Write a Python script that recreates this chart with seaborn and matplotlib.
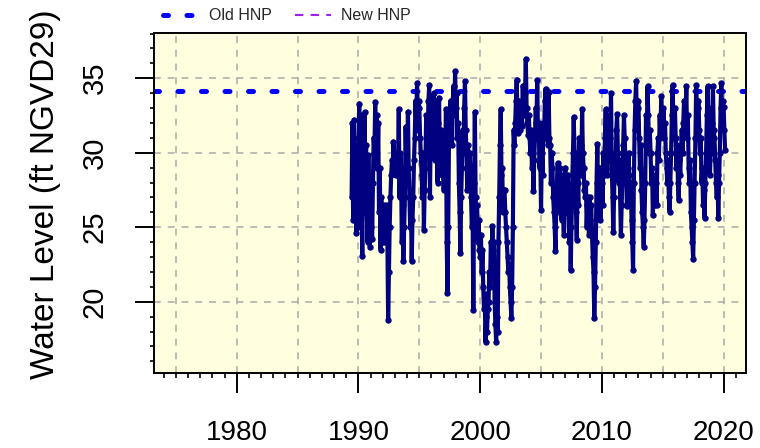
import matplotlib
matplotlib.use("Agg")
import matplotlib.pyplot as plt
from matplotlib.lines import Line2D
from matplotlib.ticker import MultipleLocator
import numpy as np
import pandas as pd
import seaborn as sns

# Stage record sampled 16 times a year, first reading at 1989.4375 (ft NGVD29)
start_year = 1989.4375
samples_per_year = 16
levels = [
    # 1989 (second half)
    27.0, 32.0, 25.5, 32.2, 26.0, 30.5, 24.6, 29.5, 25.0,
    # 1990
    31.0, 33.3, 26.5, 32.5, 27.0, 23.1, 29.0, 26.0, 32.7, 27.5, 30.5, 26.0, 24.0, 29.85, 25.5, 23.7,
    # 1991
    27.5, 25.0, 24.2, 28.0, 31.0, 30.0, 33.4, 29.5, 32.5, 29.0, 32.0, 26.0, 29.0, 23.5, 27.0, 24.0,
    # 1992
    24.5, 26.5, 24.0, 26.0, 25.0, 26.5, 24.5, 18.8, 22.0, 25.0, 27.0, 28.5, 29.5, 29.0, 30.75, 28.6,
    # 1993
    29.5, 28.5, 30.0, 28.5, 29.0, 32.9, 27.0, 30.0, 29.0, 24.0, 26.5, 22.7, 25.0, 27.0, 31.75, 29.0,
    # 1994
    28.0, 32.75, 29.0, 27.0, 25.0, 26.5, 22.7, 25.5, 27.0, 29.5, 31.0, 33.5, 32.0, 34.65, 31.5, 33.5,
    # 1995
    33.0, 31.0, 30.0, 28.5, 27.0, 30.0, 24.8, 27.5, 29.0, 32.5, 30.0, 31.0, 33.5, 34.55, 27.05, 32.0,
    # 1996
    33.0, 30.5, 32.5, 34.0, 29.5, 31.5, 33.5, 30.0, 28.0, 32.0, 33.7, 29.0, 31.0, 31.5, 28.5, 30.5,
    # 1997
    27.5, 30.0, 28.5, 32.9, 24.0, 20.6, 25.0, 31.0, 32.0, 33.5, 31.0, 30.5, 33.5, 34.5, 32.5, 35.45,
    # 1998
    33.0, 34.0, 31.0, 32.0, 28.0, 26.0, 23.3, 27.0, 29.0, 31.5, 30.0, 33.0, 34.8, 31.5, 30.0, 27.5,
    # 1999
    30.5, 29.0, 30.0, 29.0, 27.0, 25.0, 26.0, 19.45, 28.0, 32.75, 27.0, 25.5, 26.5, 24.0, 25.5, 23.5,
    # 2000
    23.0, 24.5, 22.0, 23.5, 21.0, 19.5, 20.5, 17.3, 19.0, 18.0, 19.5, 20.0, 22.0, 21.0, 24.0, 23.0,
    # 2001
    25.05, 23.5, 24.0, 20.0, 18.5, 17.3, 19.0, 18.0, 24.0, 27.0, 30.5, 32.9, 28.5, 29.0, 26.0, 27.5,
    # 2002
    27.5, 26.0, 25.0, 24.0, 23.0, 22.0, 22.5, 21.0, 20.0, 18.9, 21.0, 25.0, 31.5, 30.5, 32.0, 33.5,
    # 2003
    34.9, 32.5, 31.3, 33.5, 32.5, 31.5, 33.0, 31.8, 34.5, 32.5, 33.0, 34.0, 36.3, 33.0, 32.0, 31.2,
    # 2004
    32.5, 31.0, 30.0, 31.5, 29.0, 30.0, 27.4, 29.5, 31.0, 33.0, 32.0, 34.9, 31.0, 32.0, 29.0, 30.0,
    # 2005
    26.15, 30.0, 28.5, 32.0, 31.0, 33.5, 34.3, 32.0, 33.0, 30.5, 34.1, 31.0, 30.5, 28.0, 30.0, 29.0,
    # 2006
    27.0, 26.0, 25.0, 23.4, 26.5, 28.0, 29.3, 26.0, 27.0, 29.0, 27.5, 25.5, 28.5, 26.0, 24.5, 28.0,
    # 2007
    29.0, 26.0, 28.0, 28.5, 26.0, 24.0, 27.0, 22.1, 25.0, 28.0, 30.0, 32.4, 30.0, 28.0, 26.0, 24.15,
    # 2008
    28.0, 26.5, 31.0, 29.0, 30.5, 28.5, 32.9, 30.0, 29.0, 27.5, 27.0, 28.0, 25.0, 26.5, 27.0, 24.5,
    # 2009
    27.0, 25.5, 26.5, 24.5, 23.0, 22.0, 18.9, 21.0, 24.0, 28.0, 30.6, 27.0, 28.5, 29.0, 25.5, 27.5,
    # 2010
    28.0, 26.5, 30.0, 28.5, 31.0, 32.9, 30.0, 28.5, 31.0, 29.5, 32.5, 31.0, 34.0, 29.0, 27.0, 24.7,
    # 2011
    27.0, 30.0, 28.5, 31.5, 32.6, 30.0, 28.0, 29.5, 27.0, 24.5, 26.5, 29.0, 30.5, 32.5, 31.0, 29.5,
    # 2012
    28.0, 26.4, 29.0, 30.0, 28.5, 27.0, 28.0, 25.5, 24.0, 22.1, 28.0, 31.5, 33.5, 34.8, 32.0, 33.0,
    # 2013
    33.5, 31.0, 29.0, 30.5, 27.5, 26.0, 25.0, 23.7, 25.5, 28.0, 32.5, 31.0, 34.45, 32.5, 30.0, 31.5,
    # 2014
    30.0, 28.0, 29.0, 25.8, 27.5, 28.5, 26.5, 28.0, 26.5, 30.0, 31.0, 29.5, 32.5, 31.0, 33.8, 32.0,
    # 2015
    31.5, 33.0, 31.0, 32.0, 30.0, 29.0, 28.0, 29.5, 27.0, 26.05, 28.0, 30.0, 32.5, 34.55, 32.0, 31.0,
    # 2016
    33.0, 31.0, 29.0, 30.5, 28.0, 26.8, 29.5, 28.5, 30.0, 31.5, 30.0, 32.0, 33.5, 31.5, 32.5, 34.45,
    # 2017
    31.0, 32.5, 29.0, 28.0, 29.5, 26.0, 25.0, 24.0, 22.9, 25.5, 28.0, 31.0, 34.55, 32.0, 33.0, 33.5,
    # 2018
    31.5, 30.0, 31.0, 28.0, 29.0, 26.5, 27.5, 25.6, 28.0, 30.0, 32.5, 34.45, 31.5, 33.0, 28.5, 30.0,
    # 2019
    30.5, 32.0, 34.45, 31.5, 31.0, 29.5, 28.0, 27.0, 28.5, 25.6, 28.0, 30.0, 33.0, 34.65, 32.5, 33.5,
    # 2020
    33.1, 31.5, 30.2,
]

old_hnp = 34.15
legend_labels = ["Old HNP", "New HNP"]
x_major = [1980, 1990, 2000, 2010, 2020]
x_grid = [1975, 1980, 1985, 1990, 1995, 2000, 2005, 2010, 2015, 2020]
y_major = [20, 25, 30, 35]

years = start_year + np.arange(len(levels)) / samples_per_year
df = pd.DataFrame({"year": years, "level": levels})

sns.set_theme(style="ticks")
plt.rcParams["font.family"] = ["Liberation Sans", "DejaVu Sans"]

fig = plt.figure(figsize=(7.6, 4.48), dpi=100)
ax = fig.add_axes([154 / 760, 1 - 372.5 / 448, (745.5 - 154) / 760, (372.5 - 33.5) / 448])
ax.set_facecolor("#FFFFE0")

# dashed reference grid
for gx in x_grid:
    ax.axvline(gx, color="#A9A9A9", lw=1.1, dashes=(4.5, 4.5), zorder=1)
for gy in y_major:
    ax.axhline(gy, color="#A9A9A9", lw=1.1, dashes=(4.5, 4.5), zorder=1)

# historic normal pool
ax.axhline(old_hnp, color="#0000FF", lw=3.6, dashes=(1.0, 3.7),
           dash_capstyle="round", zorder=2)

sns.lineplot(data=df, x="year", y="level", color="#000080", lw=3.0,
             marker="o", markersize=4.6, markeredgewidth=0,
             estimator=None, sort=False, ax=ax, zorder=3)

ax.set_xlim(1973.2, 2021.8)
ax.set_ylim(15.25, 38.0)

ax.set_xticks(x_major)
ax.set_xticklabels([str(v) for v in x_major])
ax.xaxis.set_minor_locator(MultipleLocator(1))
ax.set_yticks(y_major)
ax.set_yticklabels([str(v) for v in y_major], rotation=90, va="center")
ax.yaxis.set_minor_locator(MultipleLocator(1))

ax.tick_params(axis="x", which="major", length=14.4, width=1.4, pad=20,
               labelsize=20, color="black", labelcolor="black")
ax.tick_params(axis="x", which="minor", length=3.6, width=1.2, color="black")
ax.tick_params(axis="y", which="major", length=13.7, width=1.4, pad=19,
               labelsize=21, color="black", labelcolor="black")
ax.tick_params(axis="y", which="minor", length=3.0, width=1.2, color="black")

for s in ax.spines.values():
    s.set_visible(True)
    s.set_color("black")
    s.set_linewidth(1.4)

ax.set_xlabel("")
ax.set_ylabel("Water Level (ft NGVD29)", fontsize=24, color="black")
ax.yaxis.set_label_coords(-0.157, 0.525)

handles = [
    Line2D([], [], color="#0000FF", lw=3.6, dashes=(1.0, 3.7), dash_capstyle="round"),
    Line2D([], [], color="#A020F0", lw=1.5, dashes=(4.0, 3.5)),
]
fig.legend(handles, legend_labels, loc="center left",
           bbox_to_anchor=(163 / 760, 1 - 16 / 448), ncol=2, frameon=False,
           fontsize=11.5, handlelength=2.3, handletextpad=0.6,
           columnspacing=1.4, borderaxespad=0, borderpad=0)

fig.savefig("out.png", dpi=100)
